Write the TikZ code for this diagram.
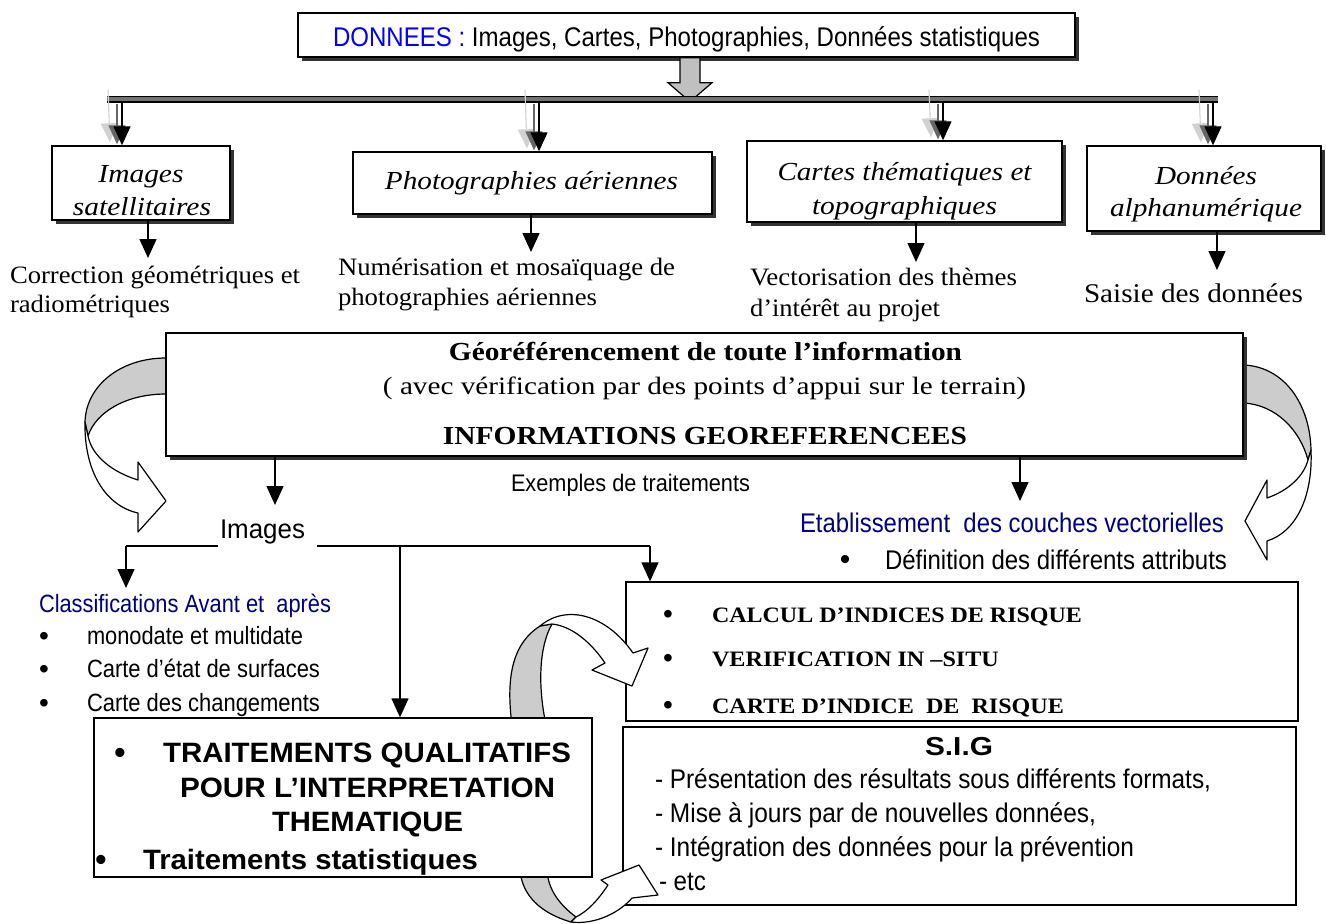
\documentclass[tikz,border=0pt]{standalone}
\usepackage{fontspec}
\usepackage{graphicx}
\setmainfont{Liberation Serif}
\newfontfamily\sansf{Liberation Sans}
\usetikzlibrary{arrows.meta,shadows,calc}
\definecolor{dblue}{RGB}{0,0,255}
\definecolor{navyb}{RGB}{0,0,128}
\definecolor{ribbon}{RGB}{204,204,204}
\definecolor{bigarrow}{RGB}{192,192,192}
\newcommand{\fw}[2]{\resizebox{#1pt}{\height}{#2}}
\newcommand{\fsz}[1]{\fontsize{#1pt}{#1pt}\selectfont}
\begin{document}
\begin{tikzpicture}[x=1pt,y=-1pt,
  sbox/.style={draw, line width=1.4pt, fill=white, inner sep=0pt,
    drop shadow={shadow xshift=3.5pt, shadow yshift=-3.5pt, fill=black!80, opacity=1}},
  pbox/.style={draw, line width=1.3pt, fill=white, inner sep=0pt},
  arr/.style={line width=1.3pt, -{Triangle[length=19pt,width=17pt]}},
  sarr/.style={line width=1.1pt, -{Triangle[length=19pt,width=17pt]}},
  txt/.style={inner sep=0pt, outer sep=0pt},
  rib/.style={draw, line width=1.2pt, fill=ribbon, line join=round},
  ribw/.style={draw, line width=1.2pt, fill=white, line join=round},
  serifr/.style={txt, font=\fsz{25}},
  serifi/.style={txt, font=\fsz{26}\itshape},
  sansn/.style={txt, font=\sansf\fsz{25}},
  bul/.style={txt, anchor=base, font=\sansf\fsz{30}},
]
\useasboundingbox (0,0) rectangle (1326,924);

% ---------- curved ribbons (back parts) ----------
\draw[rib] (166,358) .. controls (120,358) and (86,386) .. (85,422) -- (88,436) .. controls (96,412) and (126,394) .. (166,394) -- cycle;
\draw[ribw] (85,422) .. controls (84,472) and (106,506) .. (138,513) -- (138,532) -- (166,501) -- (138,462) -- (138,480) .. controls (112,472) and (92,456) .. (88,436) -- cycle;
\draw[rib] (1244,365) .. controls (1285,367) and (1310,405) .. (1311,450) -- (1308,460) .. controls (1300,430) and (1276,405) .. (1244,403) -- cycle;
\draw[ribw] (1311,450) .. controls (1313,497) and (1296,532) .. (1267,541) -- (1267,560) -- (1245,521) -- (1267,480) -- (1267,498) .. controls (1290,490) and (1304,475) .. (1308,460) -- cycle;
\draw[rib] (512,725) .. controls (505,672) and (515,642) .. (540,626) -- (552,624) .. controls (540,645) and (537,682) .. (546,725) -- cycle;
\draw[rib] (520,870) .. controls (522,895) and (540,913) .. (571,922) -- (576,917) .. controls (560,905) and (548,890) .. (547,870) -- cycle;

% ---------- boxes ----------
\node[sbox, minimum width=777pt, minimum height=44pt] (donnees) at (686.5,35) {};
\node[sbox, minimum width=178pt, minimum height=74pt] (b1) at (141,183) {};
\node[sbox, minimum width=359pt, minimum height=62pt] (b2) at (532.5,183) {};
\node[sbox, minimum width=315pt, minimum height=81pt] (b3) at (904.5,181.5) {};
\node[sbox, minimum width=234pt, minimum height=85pt] (b4) at (1204,188.5) {};
\node[sbox, minimum width=1077pt, minimum height=123pt] (geo) at (704.5,394.5) {};
\node[pbox, minimum width=498pt, minimum height=159pt] (trait) at (343,797.5) {};
\node[pbox, minimum width=672pt, minimum height=139pt] (calc) at (962,651.5) {};
\node[pbox, minimum width=673pt, minimum height=178pt] (sig) at (959.5,816) {};

% ---------- front parts of S arrows ----------
\draw[ribw] (540,626) .. controls (566,604) and (606,614) .. (633,653) -- (648,648) -- (632,686) -- (592,670) -- (605,663) .. controls (590,641) and (571,626) .. (552,624) -- cycle;
\draw[ribw] (571,922) .. controls (596,925) and (620,912) .. (632,898) -- (658,895) -- (639,865) -- (601,880) -- (608,885) .. controls (598,900) and (588,911) .. (576,917) -- cycle;

% ---------- big grey arrow and bus ----------
\draw[line width=1.2pt, fill=bigarrow, line join=miter]
  ($(donnees.south)+(-6.5,0)$) -- ++(0,25) -- ++(-12,0) -- ($(donnees.south)+(3.5,44)$) -- ++(22,-19) -- ++(-12,0) -- ++(0,-25) -- cycle;
\fill[black!55] (107,96.5) rectangle (1218,100.5);
\draw[line width=0.6pt] (107,96.5) -- (1218,96.5);
\draw[line width=1.3pt] (107,102) -- (1218,102);

\coordinate (bus1) at (122,102);
\coordinate (bus2) at (539,102);
\coordinate (bus3) at (943,102);
\coordinate (bus4) at (1213,102);
\foreach \c/\b in {bus1/b1,bus2/b2,bus3/b3,bus4/b4}{
  \draw[sarr, black!18] ($(\c)+(-14,-12)$) -- ($(\c |- \b.north)+(-12,-3)$);
  \draw[sarr, black!60] ($(\c)+(-5,2)$) -- ($(\c |- \b.north)+(-5,-1)$);
  \draw[arr] (\c) -- (\c |- \b.north);
}

% ---------- connectors from boxes ----------
\coordinate (c1) at (148,258);
\coordinate (c2) at (531,252);
\coordinate (c3) at (916,262);
\coordinate (c4) at (1217,270);
\draw[arr] (c1 |- b1.south) -- (c1);
\draw[arr] (c2 |- b2.south) -- (c2);
\draw[arr] (c3 |- b3.south) -- (c3);
\draw[arr] (c4 |- b4.south) -- (c4);

\coordinate (g1) at (275,505);
\coordinate (g2) at (1020,501);
\draw[arr] (g1 |- geo.south) -- (g1);
\draw[arr] (g2 |- geo.south) -- (g2);

\coordinate (hl) at (126,546);
\coordinate (hm) at (400,546);
\coordinate (hr) at (650,546);
\coordinate (hl2) at (218,546);
\coordinate (hr2) at (317,546);
\coordinate (a1) at (126,588);
\draw[line width=1.3pt] (hl) -- (hl2);
\draw[line width=1.3pt] (hr2) -- (hr);
\draw[arr] (hl) -- (a1);
\draw[arr] (hm) -- (hm |- trait.north);
\draw[arr] (hr) -- (hr |- calc.north);

% ---------- texts ----------
\node[sansn, anchor=base, font=\sansf\fsz{27}] (tdon) at (686.5,46) {\fw{707}{\textcolor{dblue}{DONNEES :} Images, Cartes, Photographies, Données statistiques}};

\begin{scope}
\clip ([shift={(1,1)}]b1.north west) rectangle ([shift={(-1,-1)}]b1.south east);
\node[serifi, anchor=base] (tb1a) at (141,182) {\fw{85}{Images}};
\node[serifi, anchor=base] (tb1b) at (142,215) {\fw{138}{satellitaires}};
\end{scope}
\node[serifi, anchor=base] (tb2) at (531.5,189) {\fw{293}{Photographies aériennes}};
\begin{scope}
\clip ([shift={(1,1)}]b3.north west) rectangle ([shift={(-1,-1)}]b3.south east);
\node[serifi, anchor=base] (tb3a) at (904.5,180) {\fw{254}{Cartes thématiques et}};
\node[serifi, anchor=base] (tb3b) at (904.5,214) {\fw{185}{topographiques}};
\end{scope}
\node[serifi, anchor=base] (tb4a) at (1206,184) {\fw{102}{Données}};
\node[serifi, anchor=base] (tb4b) at (1206,216) {\fw{192}{alphanumérique}};

\node[serifr, anchor=base west] (tc1a) at (10,283) {\fw{290}{Correction géométriques et}};
\node[serifr, anchor=base west] (tc1b) at (10,312) {\fw{160}{radiométriques}};
\node[serifr, anchor=base west] (tc2a) at (338,275) {\fw{337}{Numérisation et mosaïquage de}};
\node[serifr, anchor=base west] (tc2b) at (338,305) {\fw{259}{photographies aériennes}};
\node[serifr, anchor=base west] (tc3a) at (750,285) {\fw{267}{Vectorisation des thèmes}};
\node[serifr, anchor=base west] (tc3b) at (750,316) {\fw{190}{d’intérêt au projet}};
\node[serifr, anchor=base west, font=\fsz{27}] (tc4) at (1084,302) {\fw{219}{Saisie des données}};

\node[txt, anchor=base, font=\fsz{26}\bfseries] (tg1) at (705.5,360) {\fw{513}{Géoréférencement de toute l’information}};
\node[txt, anchor=base, font=\fsz{25}] (tg2) at (704.5,394) {\fw{643}{( avec vérification par des points d’appui sur le terrain)}};
\node[txt, anchor=base, font=\fsz{26}\bfseries] (tg3) at (705,444) {\fw{524}{INFORMATIONS GEOREFERENCEES}};

\node[txt, anchor=base west, font=\sansf\fsz{24}] (tex) at (511,491) {\fw{239}{Exemples de traitements}};
\node[txt, anchor=base west, font=\sansf\fsz{27}] (imgs) at (220,538) {\fw{85}{Images}};
\node[sansn, anchor=base west, text=navyb, font=\sansf\fsz{27}] (tet) at (800,532) {\fw{424}{Etablissement\ \ des couches vectorielles}};
\node[bul] (bdef) at (845,569) {•};
\node[sansn, anchor=base west, font=\sansf\fsz{27}] (tdef) at (885,569) {\fw{342}{Définition des différents attributs}};

\node[sansn, anchor=base west, text=navyb, font=\sansf\fsz{25}] (tcl) at (39,612) {\fw{292}{Classifications Avant et\ \ après}};
\node[bul, font=\sansf\fsz{28}] (bc1) at (44,645) {•};
\node[bul, font=\sansf\fsz{28}] (bc2) at (44,678) {•};
\node[bul, font=\sansf\fsz{28}] (bc3) at (44,712) {•};
\node[txt, anchor=base west, font=\sansf\fsz{25}] (tcl1) at (87,644) {\fw{216}{monodate et multidate}};
\node[txt, anchor=base west, font=\sansf\fsz{25}] (tcl2) at (87,677) {\fw{233}{Carte d’état de surfaces}};
\node[txt, anchor=base west, font=\sansf\fsz{25}] (tcl3) at (87,711) {\fw{233}{Carte des changements}};

\node[bul, font=\sansf\fsz{28}] (bk1) at (668,623) {•};
\node[bul, font=\sansf\fsz{28}] (bk2) at (668,667) {•};
\node[bul, font=\sansf\fsz{28}] (bk3) at (668,714) {•};
\node[txt, anchor=base west, font=\fsz{22}\bfseries] (tk1) at (712,622) {\fw{370}{CALCUL D’INDICES DE RISQUE}};
\node[txt, anchor=base west, font=\fsz{22}\bfseries] (tk2) at (712,666) {\fw{287}{VERIFICATION IN –SITU}};
\node[txt, anchor=base west, font=\fsz{22}\bfseries] (tk3) at (712,713) {\fw{352}{CARTE D’INDICE\ \ DE\ \ RISQUE}};

\node[txt, anchor=base, font=\sansf\fsz{26}\bfseries] (tsig) at (959,755) {\fw{68}{S.I.G}};
\node[sansn, anchor=base west, font=\sansf\fsz{27}] (ts1) at (655,788) {\fw{556}{- Présentation des résultats sous différents formats,}};
\node[sansn, anchor=base west, font=\sansf\fsz{27}] (ts2) at (655,822) {\fw{441}{- Mise à jours par de nouvelles données,}};
\node[sansn, anchor=base west, font=\sansf\fsz{27}] (ts3) at (655,856) {\fw{479}{- Intégration des données pour la prévention}};
\node[sansn, anchor=base west, font=\sansf\fsz{27}] (ts4) at (659,890) {\fw{47}{- etc}};

\node[bul, font=\sansf\fsz{32}\bfseries] (bt1) at (120,763) {•};
\node[txt, anchor=base west, font=\sansf\fsz{28}\bfseries] (tt1) at (163,762) {\fw{408}{TRAITEMENTS QUALITATIFS}};
\node[txt, anchor=base west, font=\sansf\fsz{28}\bfseries] (tt2) at (180,797) {\fw{375}{POUR L’INTERPRETATION}};
\node[txt, anchor=base west, font=\sansf\fsz{28}\bfseries] (tt3) at (272,831) {\fw{191}{THEMATIQUE}};
\node[bul, font=\sansf\fsz{32}\bfseries] (bt2) at (101,870) {•};
\node[txt, anchor=base west, font=\sansf\fsz{28}\bfseries] (tt4) at (143,869) {\fw{335}{Traitements statistiques}};
\end{tikzpicture}
\end{document}
